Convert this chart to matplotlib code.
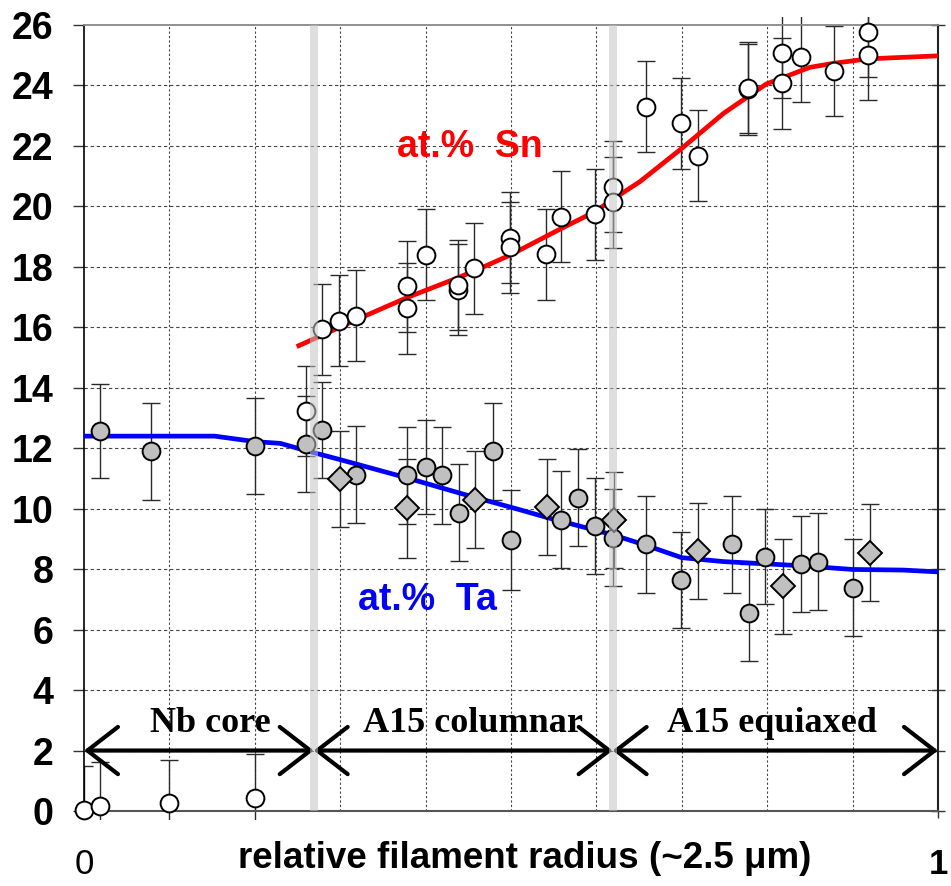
import matplotlib
matplotlib.use("Agg")
import matplotlib.pyplot as plt
from matplotlib.patches import Rectangle

# ---------------- data ----------------
sn_x = [0.000, 0.019, 0.099, 0.200, 0.260, 0.279, 0.299, 0.318, 0.378, 0.378,
        0.400, 0.438, 0.438, 0.457, 0.499, 0.499, 0.541, 0.559, 0.598, 0.619,
        0.619, 0.658, 0.699, 0.719, 0.778, 0.778, 0.817, 0.817, 0.839, 0.878,
        0.918, 0.918]
sn_y = [0.03, 0.18, 0.25, 0.42, 13.23, 15.93, 16.22, 16.38, 17.35, 16.63,
        18.40, 17.25, 17.40, 17.95, 18.97, 18.65, 18.41, 19.66, 19.74, 20.65,
        20.13, 23.30, 22.75, 21.68, 23.87, 23.93, 25.08, 24.07, 24.94, 24.48,
        25.78, 25.01]
sn_err = [1.45, 1.45, 1.45, 1.45] + [1.5] * 28

ta_circ_x = [0.019, 0.079, 0.200, 0.260, 0.279, 0.318, 0.378, 0.400, 0.419, 0.439,
             0.479, 0.500, 0.559, 0.578, 0.598, 0.620, 0.658, 0.699, 0.759, 0.779,
             0.798, 0.840, 0.859, 0.900]
ta_circ_y = [12.58, 11.90, 12.07, 12.14, 12.60, 11.13, 11.11, 11.37, 11.11, 9.87,
             11.90, 8.96, 9.64, 10.36, 9.43, 9.04, 8.82, 7.64, 8.82, 6.56,
             8.41, 8.17, 8.25, 7.39]
ta_circ_err = [1.55, 1.6, 1.6, 1.6, 1.6, 1.6, 1.6, 1.55, 1.6, 1.6,
               1.6, 1.65, 1.6, 1.6, 1.6, 1.6, 1.6, 1.6, 1.6, 1.6,
               1.57, 1.6, 1.6, 1.6]

ta_dia_x = [0.300, 0.378, 0.458, 0.542, 0.621, 0.719, 0.818, 0.920]
ta_dia_y = [10.98, 10.01, 10.30, 10.06, 9.63, 8.60, 7.44, 8.54]
ta_dia_err = [1.6, 1.65, 1.6, 1.6, 1.6, 1.6, 1.57, 1.6]

sn_fit_x = [0.249, 0.318, 0.378, 0.438, 0.468, 0.499, 0.559, 0.598, 0.619, 0.651,
            0.700, 0.749, 0.799, 0.850, 0.877, 0.918, 1.000]
sn_fit_y = [15.36, 16.24, 16.98, 17.64, 18.00, 18.39, 19.27, 19.82, 20.23, 20.82,
            21.92, 23.08, 24.05, 24.60, 24.73, 24.88, 24.98]

ta_fit_x = [0.000, 0.153, 0.200, 0.230, 0.260, 0.299, 0.378, 0.448, 0.511, 0.542,
            0.620, 0.659, 0.700, 0.749, 0.842, 0.900, 0.959, 1.000]
ta_fit_y = [12.40, 12.40, 12.22, 12.16, 11.92, 11.63, 11.02, 10.45, 9.96, 9.71,
            9.13, 8.78, 8.38, 8.25, 8.11, 7.99, 7.97, 7.91]

boundaries = [0.0, 0.269, 0.619, 1.0]
region_labels = ["Nb core", "A15 columnar", "A15 equiaxed"]
y_ticks = list(range(0, 27, 2))
x_tick_labels = ["0", "1"]
sn_label = "at.%  Sn"
ta_label = "at.%  Ta"
x_label = "relative filament radius (~2.5 \u03bcm)"

# ---------------- figure ----------------
fig = plt.figure(figsize=(9.51, 8.86), dpi=100)
ax = fig.add_axes([84 / 951, 1 - 811 / 886, (938 - 84) / 951, (811 - 25) / 886])
ax.set_xlim(0, 1)
ax.set_ylim(0, 26)

# grid
for yv in y_ticks[1:-1]:
    ax.axhline(yv, color="#444444", lw=0.8, ls=(0, (3, 2.5)), zorder=0)
for k in range(1, 10):
    ax.axvline(k / 10, color="#444444", lw=0.8, ls=(0, (2, 2)), zorder=0)

clip = Rectangle((0, -0.0115), 1, 1.0217, transform=ax.transAxes)

def ebar(x, y, e):
    cont = ax.errorbar(x, y, yerr=e, fmt="none", ecolor="#2a2a2a", elinewidth=1.0,
                       capsize=6.5, capthick=1.0, zorder=2)
    for art in list(cont.lines[1]) + list(cont.lines[2]):
        art.set_clip_path(clip)

ebar(sn_x, sn_y, sn_err)
ebar(ta_circ_x, ta_circ_y, ta_circ_err)
ebar(ta_dia_x, ta_dia_y, ta_dia_err)
for coll in ax.collections:
    coll.set_clip_path(clip)

# fit lines
ax.plot(sn_fit_x, sn_fit_y, color="#ff0000", lw=3.4, zorder=3, solid_capstyle="butt")
ax.plot(ta_fit_x, ta_fit_y, color="#0000ff", lw=3.4, zorder=3, solid_capstyle="butt")

# markers
ax.plot(ta_circ_x, ta_circ_y, ls="none", marker="o", ms=12.8, mfc="#c0c0c0",
        mec="black", mew=1.4, zorder=4, clip_on=False)
ax.plot(ta_dia_x, ta_dia_y, ls="none", marker="D", ms=12, mfc="#c0c0c0",
        mec="black", mew=1.4, zorder=4, clip_on=False)
ax.plot(sn_x, sn_y, ls="none", marker="o", ms=12.8, mfc="white",
        mec="black", mew=1.4, zorder=4, clip_on=False)

# boundary bands
for b in boundaries[1:-1]:
    ax.axvspan(b - 0.0048, b + 0.0048, color="#c4c4c4", alpha=0.55, lw=0, zorder=6)

# region arrows
for b0, b1 in zip(boundaries[:-1], boundaries[1:]):
    ax.annotate("", xy=(b1, 2), xytext=(b0, 2), xycoords="data",
                arrowprops=dict(arrowstyle="<->,head_length=1.1,head_width=0.85",
                                lw=3.0, color="black", mutation_scale=20,
                                shrinkA=0, shrinkB=0),
                zorder=5, annotation_clip=False)

serif = ["Liberation Serif", "DejaVu Serif"]
for xc, lab in zip([0.148, 0.456, 0.806], region_labels):
    ax.text(xc, 2.62, lab, ha="center", va="baseline", fontsize=26,
            fontweight="bold", family=serif, zorder=7)

sans = ["Liberation Sans", "DejaVu Sans"]
ax.text(0.452, 21.64, sn_label, color="#ff0000", ha="center", va="baseline",
        fontsize=27, fontweight="bold", family=sans, zorder=7)
ax.text(0.4022, 6.65, ta_label, color="#0000ff", ha="center", va="baseline",
        fontsize=27, fontweight="bold", family=sans, zorder=7)

# axes styling
ax.spines["left"].set_color("black")
ax.spines["left"].set_linewidth(1.2)
ax.spines["bottom"].set_color("#555555")
ax.spines["bottom"].set_linewidth(1.5)
ax.spines["top"].set_color("#888888")
ax.spines["top"].set_linewidth(1.3)
ax.spines["right"].set_color("#222222")
ax.spines["right"].set_linewidth(1.5)

ax.set_yticks(y_ticks)
ax.set_yticklabels([str(v) for v in y_ticks])
ax.tick_params(axis="y", direction="out", length=8, width=1, color="#333333",
               pad=14, labelsize=27)
for t in ax.get_yticklabels():
    t.set_fontweight("bold")
    t.set_family(sans)

ax.set_xticks([0, 1])
ax.set_xticklabels(x_tick_labels)
ax.tick_params(axis="x", direction="out", length=5, width=1, color="#333333",
               pad=22, labelsize=25)
for t, w in zip(ax.get_xticklabels(), ["normal", "bold"]):
    t.set_fontweight(w)
    t.set_family(sans)

sec = ax.secondary_yaxis("right")
sec.set_yticks(y_ticks)
sec.tick_params(direction="inout", length=10, width=1, color="#333333", labelright=False)
sec.spines["right"].set_visible(False)

ax.text(0.516, -0.0725, x_label, transform=ax.transAxes, ha="center", va="baseline",
        fontsize=26.5, fontweight="bold", family=sans)

fig.savefig("out.png", dpi=100)
